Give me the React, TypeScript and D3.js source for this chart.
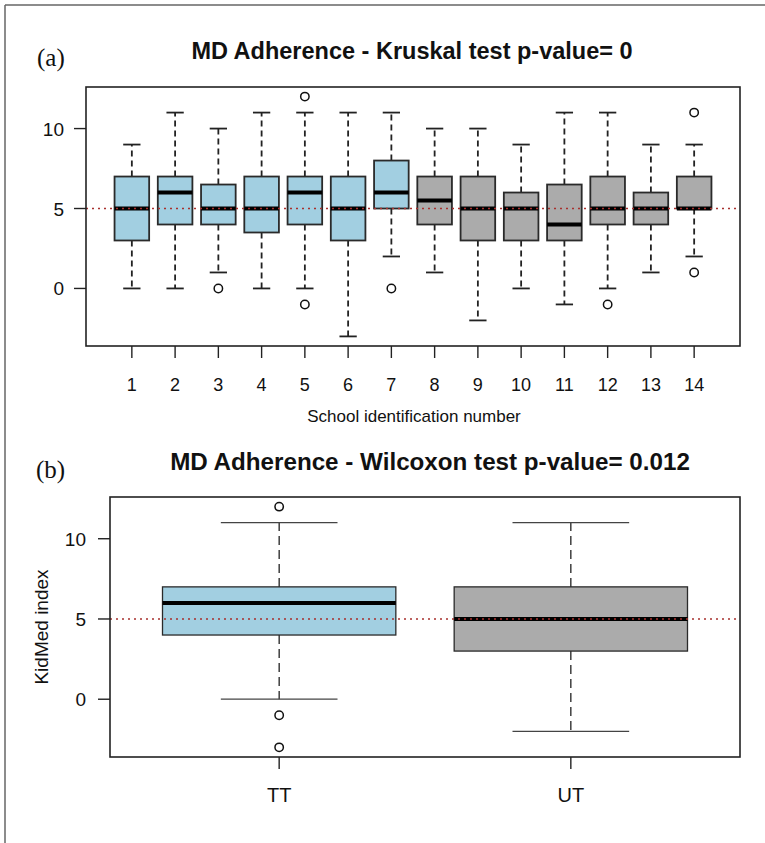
import * as d3 from 'd3';

// panel (a): one box per school
const schools = ['1', '2', '3', '4', '5', '6', '7', '8', '9', '10', '11', '12', '13', '14'];
const schoolLow = [0, 0, 1, 0, 0, -3, 2, 1, -2, 0, -1, 0, 1, 2];
const schoolQ1 = [3, 4, 4, 3.5, 4, 3, 5, 4, 3, 3, 3, 4, 4, 5];
const schoolMedian = [5, 6, 5, 5, 6, 5, 6, 5.5, 5, 5, 4, 5, 5, 5];
const schoolQ3 = [7, 7, 6.5, 7, 7, 7, 8, 7, 7, 6, 6.5, 7, 6, 7];
const schoolHigh = [9, 11, 10, 11, 11, 11, 11, 10, 10, 9, 11, 11, 9, 9];
const schoolOutliers = [[], [], [0], [], [-1, 12], [], [0], [], [], [], [], [-1], [], [11, 1]];
const schoolGroup = ['TT', 'TT', 'TT', 'TT', 'TT', 'TT', 'TT', 'UT', 'UT', 'UT', 'UT', 'UT', 'UT', 'UT'];

// panel (b): TT vs UT
const groups = ['TT', 'UT'];
const groupLow = [0, -2];
const groupQ1 = [4, 3];
const groupMedian = [6, 5];
const groupQ3 = [7, 7];
const groupHigh = [11, 11];
const groupOutliers = [[12, -1, -3], []];

const yTicks = [0, 5, 10];
const refLine = 5;

const fill: Record<string, string> = { TT: '#a2cfe1', UT: '#ababab' };
const sans = 'Liberation Sans, Arial, sans-serif';
const serif = 'Liberation Serif, Times New Roman, serif';

type BoxProps = {
  names: string[];
  low: number[];
  q1: number[];
  med: number[];
  q3: number[];
  high: number[];
  outliers: number[][];
  colors: string[];
  left: number;
  right: number;
  top: number;
  bottom: number;
  labelRight: number;
  tickSize: number;
  lw: number;
  dash: string;
  capColor: string;
  tickFont: number;
  xLabelY: number;
};

const BoxPanel = (p: BoxProps) => {
  const n = p.names.length;
  // R style: 0.5..n+0.5 widened by 4%
  const x = d3.scaleLinear().domain([0.5 - n * 0.04, n + 0.5 + n * 0.04]).range([p.left, p.right]);
  const y = d3.scaleLinear().domain([-3.6, 12.6]).range([p.bottom, p.top]);
  const half = x(0.4) - x(0);
  const cap = half / 2;

  return (
    <g>
      {p.names.map((name, i) => {
        const cx = x(i + 1);
        return (
          <g key={name}>
            <line x1={cx} x2={cx} y1={y(p.q3[i])} y2={y(p.high[i])} stroke="#222" strokeWidth={p.lw} strokeDasharray={p.dash} />
            <line x1={cx} x2={cx} y1={y(p.q1[i])} y2={y(p.low[i])} stroke="#222" strokeWidth={p.lw} strokeDasharray={p.dash} />
            <line x1={cx - cap} x2={cx + cap} y1={y(p.high[i])} y2={y(p.high[i])} stroke={p.capColor} strokeWidth={p.lw} />
            <line x1={cx - cap} x2={cx + cap} y1={y(p.low[i])} y2={y(p.low[i])} stroke={p.capColor} strokeWidth={p.lw} />
            <rect x={cx - half} y={y(p.q3[i])} width={half * 2} height={y(p.q1[i]) - y(p.q3[i])}
              fill={p.colors[i]} stroke="#2a2a2a" strokeWidth={p.lw} />
            <line x1={cx - half} x2={cx + half} y1={y(p.med[i])} y2={y(p.med[i])} stroke="#000" strokeWidth={4} />
            {p.outliers[i].map((v, j) => (
              <circle key={j} cx={cx} cy={y(v)} r={4.2} fill="none" stroke="#111" strokeWidth={1.5} />
            ))}
          </g>
        );
      })}
      <line x1={p.left} x2={p.right} y1={y(refLine)} y2={y(refLine)} stroke="#a8302e" strokeWidth={1.6} strokeDasharray="2,4" />
      <rect x={p.left} y={p.top} width={p.right - p.left} height={p.bottom - p.top} fill="none" stroke="#222" strokeWidth={1.6} />
      {yTicks.map(t => (
        <g key={t}>
          <line x1={p.left - p.tickSize} x2={p.left} y1={y(t)} y2={y(t)} stroke="#222" strokeWidth={1.4} />
          <text x={p.labelRight} y={y(t) + 7} textAnchor="end" fontFamily={sans} fontSize={19} fill="#111">{t}</text>
        </g>
      ))}
      {p.names.map((name, i) => (
        <g key={name}>
          <line x1={x(i + 1)} x2={x(i + 1)} y1={p.bottom} y2={p.bottom + p.tickSize} stroke="#222" strokeWidth={1.4} />
          <text x={x(i + 1)} y={p.xLabelY} textAnchor="middle" fontFamily={sans} fontSize={p.tickFont} fill="#111">{name}</text>
        </g>
      ))}
    </g>
  );
};

export default function App() {
  return (
    <svg width={765} height={843} style={{ position: 'absolute', left: 0, top: 0, background: '#fff' }}>
      <rect x={0} y={0} width={765} height={843} fill="#fff" />
      <line x1={5} x2={765} y1={5} y2={5} stroke="#666" strokeWidth={1.5} />
      <line x1={5} x2={5} y1={5} y2={843} stroke="#666" strokeWidth={1.5} />

      <text x={37} y={66} fontFamily={serif} fontSize={25} fill="#111">(a)</text>
      <text x={412} y={59} textAnchor="middle" fontFamily={sans} fontWeight="bold" fontSize={23.5} fill="#111">
        MD Adherence - Kruskal test p-value= 0
      </text>
      <BoxPanel names={schools} low={schoolLow} q1={schoolQ1} med={schoolMedian} q3={schoolQ3} high={schoolHigh}
        outliers={schoolOutliers} colors={schoolGroup.map(g => fill[g])}
        left={86} right={740} top={87} bottom={346} labelRight={64} tickSize={12}
        lw={1.8} dash="6,4" capColor="#222" tickFont={18} xLabelY={391} />
      <text x={414} y={422} textAnchor="middle" fontFamily={sans} fontSize={17} fill="#111">School identification number</text>

      <text x={36} y={478} fontFamily={serif} fontSize={25} fill="#111">(b)</text>
      <text x={430} y={470} textAnchor="middle" fontFamily={sans} fontWeight="bold" fontSize={24.2} fill="#111">
        MD Adherence - Wilcoxon test p-value= 0.012
      </text>
      <BoxPanel names={groups} low={groupLow} q1={groupQ1} med={groupMedian} q3={groupQ3} high={groupHigh}
        outliers={groupOutliers} colors={groups.map(g => fill[g])}
        left={110} right={740} top={497} bottom={757} labelRight={86} tickSize={12}
        lw={1.3} dash="9,5" capColor="#444" tickFont={20} xLabelY={802} />
      <text transform="translate(48,627) rotate(-90)" textAnchor="middle" fontFamily={sans} fontSize={19} fill="#111">KidMed index</text>
    </svg>
  );
}
